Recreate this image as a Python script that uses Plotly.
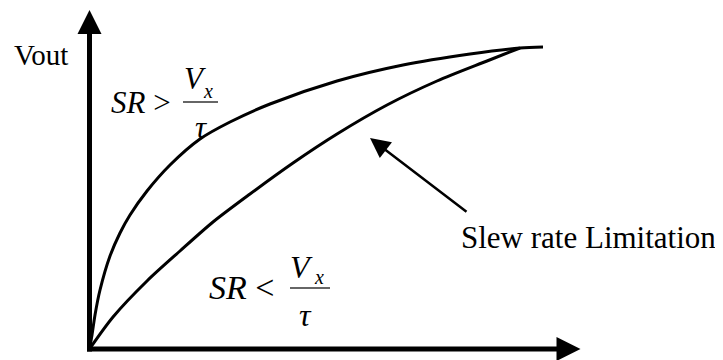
import plotly.graph_objects as go

# Data: response curves (time, Vout) in drawing units
fast_t = [0, 2.5, 5.5, 10.5, 20.5, 30.5, 40.5, 57.5, 80.5, 110.5, 140.5, 180.5, 247.5, 313.5, 380.5, 430.5, 453.5]
fast_v = [0, 14, 34, 59, 93, 116, 134, 158, 184, 210, 227, 245, 268, 284, 295, 301, 302]
slow_t = [0, 23.5, 57.5, 90.5, 123.5, 160.5, 203.5, 247.5, 297.5, 347.5, 397.5, 430.5]
slow_v = [0, 32, 68, 98, 127, 155, 186, 215, 244, 268, 288, 301]

y_label = "Vout"
callout_label = "Slew rate Limitation"
fast_label = "<i>SR</i> >"
slow_label = "<i>SR</i> <"
num_label = "V"
sub_label = "x"
den_label = "τ"

FONT = "Liberation Serif, Times New Roman, serif"
BLACK = "#000000"

fig = go.Figure()
for t, v in [(fast_t, fast_v), (slow_t, slow_v)]:
    fig.add_trace(go.Scatter(x=t, y=v, mode="lines", line=dict(color=BLACK, width=3, shape="spline", smoothing=0.8),
                             hoverinfo="skip", showlegend=False))

shapes = []
# axes lines
shapes.append(dict(type="line", x0=0, y0=-2.5, x1=0, y1=318, line=dict(color=BLACK, width=5)))
shapes.append(dict(type="line", x0=-2.5, y0=0, x1=470, y1=0, line=dict(color=BLACK, width=5)))
# arrow heads
shapes.append(dict(type="path", path="M -12,315 L 0,339 L 12,315 Z", fillcolor=BLACK, line=dict(width=0)))
shapes.append(dict(type="path", path="M 467,12 L 491,0 L 467,-12 Z", fillcolor=BLACK, line=dict(width=0)))
# fraction bars
shapes.append(dict(type="line", x0=93.5, y0=247, x1=128.5, y1=247, line=dict(color="#333", width=1.5)))
shapes.append(dict(type="line", x0=200.5, y0=61, x1=240.5, y1=61, line=dict(color="#333", width=1.5)))

def txt(x, y, s, size, xanchor="left", italic=False):
    return dict(x=x, y=y, xref="x", yref="y", text=s, showarrow=False, xanchor=xanchor, yanchor="middle",
                font=dict(family=FONT, size=size, color=BLACK, style="italic" if italic else "normal"))

ann = [
    txt(-77.5, 294.5, y_label, 29),
    txt(19.5, 246.5, fast_label, 31),
    txt(105.5, 270.5, num_label, 31, "center", True),
    txt(118.5, 258, sub_label, 20, "center", True),
    txt(111.5, 221.5, den_label, 31, "center", True),
    txt(117.5, 62, slow_label, 34),
    txt(212, 82.5, num_label, 32, "center", True),
    txt(229, 72, sub_label, 20, "center", True),
    txt(215.5, 34.5, den_label, 32, "center", True),
    txt(369.5, 111.5, callout_label, 31),
    dict(x=280.5, y=211, ax=378.5, ay=136, xref="x", yref="y", axref="x", ayref="y", text="",
         showarrow=True, arrowhead=2, arrowsize=1.6, arrowwidth=2.5, arrowcolor=BLACK),
]

# page body has an 8px margin: the figure is 715x352 and its coordinates are shifted accordingly
fig.update_layout(
    width=715, height=352, autosize=False,
    margin=dict(l=0, r=0, t=0, b=0),
    paper_bgcolor="white", plot_bgcolor="white",
    font=dict(family=FONT),
    xaxis=dict(range=[-81.5, 633.5], visible=False, fixedrange=True),
    yaxis=dict(range=[-11, 341], visible=False, fixedrange=True),
    shapes=shapes, annotations=ann, showlegend=False,
)
fig.write_html("out.html", config={"displayModeBar": False})
